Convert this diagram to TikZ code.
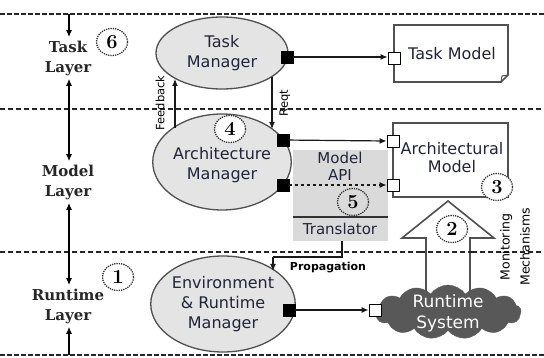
\documentclass[tikz,border=0pt]{standalone}
\usepackage{fontspec}
\setmainfont{DejaVu Sans}
\newfontfamily\layerfont{DejaVu Serif}
\newfontfamily\numfont{Latin Modern Roman}
\usetikzlibrary{arrows.meta,shapes.geometric,shapes.symbols}

\definecolor{edgegray}{HTML}{505050}
\definecolor{bubble}{HTML}{E4E4E4}
\definecolor{inkblue}{HTML}{22243A}
\definecolor{cloudgray}{HTML}{585858}
\definecolor{apigray}{HTML}{DADADA}

\tikzset{
  layerline/.style={line width=1.4pt, dash pattern=on 5pt off 3pt, black!85},
  borderline/.style={line width=2.6pt, dash pattern=on 5pt off 2pt, black!85},
  tip/.style={-{Latex[length=7pt,width=6pt]}},
  dtip/.style={{Latex[length=7pt,width=6pt]}-{Latex[length=7pt,width=6pt]}},
  conn/.style={tip, line width=1.2pt, black!90},
  manager/.style={ellipse, draw=edgegray, line width=1.3pt, fill=bubble,
    text=inkblue, align=center, font=\fontsize{16}{20}\selectfont, inner sep=0pt},
  modelbox/.style={draw=edgegray, line width=1.6pt, fill=white},
  outport/.style={rectangle, fill=black, draw=black, minimum size=12pt, inner sep=0pt},
  inport/.style={rectangle, fill=white, draw=black, line width=0.9pt, minimum size=12pt, inner sep=0pt},
  stepnum/.style={ellipse, draw=black!80, densely dotted, line width=1.3pt, fill=white,
    minimum width=31pt, minimum height=27pt, inner sep=0pt,
    font=\numfont\bfseries\fontsize{20}{20}\selectfont},
  layerlabel/.style={align=center, text=black!85,
    font=\layerfont\bfseries\fontsize{15}{20}\selectfont},
  sidelabel/.style={font=\fontsize{11.5}{13}\selectfont, text=black},
}

\begin{document}
\begin{tikzpicture}[x=1pt,y=-1pt]
\useasboundingbox[fill=white] (0,0) rectangle (544,358);

% layer separators
\draw[borderline] (0,14) -- (544,14);
\draw[borderline] (0,355) -- (544,355);
\draw[layerline] (0,109) -- (544,109);
\draw[layerline] (0,252) -- (544,252);

% layer labels and the arrows between them
\node[layerlabel] (tl) at (68,58) {Task\\Layer};
\node[layerlabel] (ml) at (68,182) {Model\\Layer};
\node[layerlabel] (rl) at (68,306) {Runtime\\Layer};
\coordinate (topin) at (69,14);
\coordinate (botin) at (69,355);
\draw[tip, line width=1.3pt] (topin) -- (tl.north -| topin);
\draw[dtip, line width=1.3pt] (tl.south -| topin) -- (ml.north -| topin);
\draw[dtip, line width=1.3pt] (ml.south -| topin) -- (rl.north -| topin);
\draw[tip, line width=1.3pt] (botin) -- (rl.south -| botin);

% managers
\node[manager, minimum width=132pt, minimum height=72pt] (tm) at (222,53) {Task\\Manager};
\node[manager, minimum width=134pt, minimum height=96pt] (am) at (222,162) {\\[-2pt]Architecture\\Manager};
\node[manager, minimum width=136pt, minimum height=96pt] (em) at (223,304) {Environment\\\& Runtime\\Manager};

% model API / translator block
\node[fill=apigray, minimum width=95pt, minimum height=91pt, inner sep=0pt] (api) at (340.5,195.5) {};
\draw[line width=1.2pt, black!80] (api.west |- 0,217) -- (api.east |- 0,217);
\node[text=inkblue, align=center, font=\fontsize{15}{17}\selectfont] (apitext) at (340,166) {Model\\API};
\node[text=inkblue, font=\fontsize{15}{17}\selectfont] (trans) at (340,229) {Translator};

% models
\draw[modelbox] (394,25) -- (508,25) -- (508,75) -- (501,82) -- (394,82) -- cycle;
\draw[edgegray, line width=1pt] (501,82) -- (502,76) -- (508,75);
\node[text=inkblue, font=\fontsize{16}{20}\selectfont] (tmod) at (452,54) {Task Model};
\node[modelbox, minimum width=115pt, minimum height=74pt, inner sep=0pt] (amod) at (450.5,160) {};
\node[text=inkblue, align=center, font=\fontsize{16}{18}\selectfont] (amodtext) at (452,158) {Architectural\\Model};

% monitoring arrow
\draw[edgegray, line width=1.6pt, fill=white, line join=miter]
  (426,292) -- (426,238) -- (402,238) -- (448,201) -- (494,238) -- (470,238) -- (470,292);
\draw[layerline] (420,252) -- (476,252);
\node[rotate=90, align=center, font=\fontsize{12.5}{20}\selectfont, text=black] (mon) at (515,247) {Monitoring\\Mechanisms};

% runtime system
\node[cloud, cloud puffs=13, cloud puff arc=110, aspect=2.8, fill=cloudgray, draw=cloudgray,
  minimum width=146pt, minimum height=54pt, inner sep=0pt] (rs) at (448,312) {};
\node[text=white, align=center, font=\fontsize{17}{21}\selectfont] (rstext) at (448,313) {Runtime\\System};

% ports
\node[outport] (tmo) at (287,57) {};
\node[inport] (tmi) at (394,58) {};
\node[outport] (amo1) at (283,140) {};
\node[outport] (amo2) at (283,185) {};
\node[inport] (ami1) at (393,141) {};
\node[inport] (ami2) at (393,185) {};
\node[outport] (emo) at (289,310) {};
\node[inport] (rsi) at (375,310) {};

% connectors between ports
\draw[conn] (tmo) -- (tmi.west |- tmo);
\draw[conn] (amo1) -- (ami1.west);
\draw[conn, dashed] (amo2) -- (ami2.west);
\draw[conn] (emo) -- (rsi.west);

% feedback and request
\coordinate (fbs) at (175,128);
\coordinate (fbe) at (175,79);
\coordinate (rqs) at (272,77);
\coordinate (rqe) at (272,129);
\draw[conn] (fbs) -- (fbe);
\draw[conn] (rqs) -- (rqe);
\node[sidelabel, rotate=90] (fbl) at (160,103) {Feedback};
\node[sidelabel, rotate=90] (rql) at (285,103) {Reqt};

% propagation
\coordinate (pr1) at (342,257);
\coordinate (pr2) at (273,257);
\coordinate (pre) at (273,271);
\draw[conn, -] (api.south -| pr1) -- (pr1) -- (pr2);
\draw[conn] (pr2) -- (pre);
\node[font=\bfseries\fontsize{11}{13}\selectfont] (prl) at (328,268) {Propagation};

% step numbers
\node[stepnum] (n6) at (112,42) {6};
\node[stepnum] (n1) at (118,277) {1};
\node[stepnum] (n4) at (230,129) {4};
\node[stepnum, fill=apigray] (n5) at (353,202) {5};
\node[stepnum] (n3) at (497,187) {3};
\node[stepnum] (n2) at (452,229) {2};
\end{tikzpicture}
\end{document}
